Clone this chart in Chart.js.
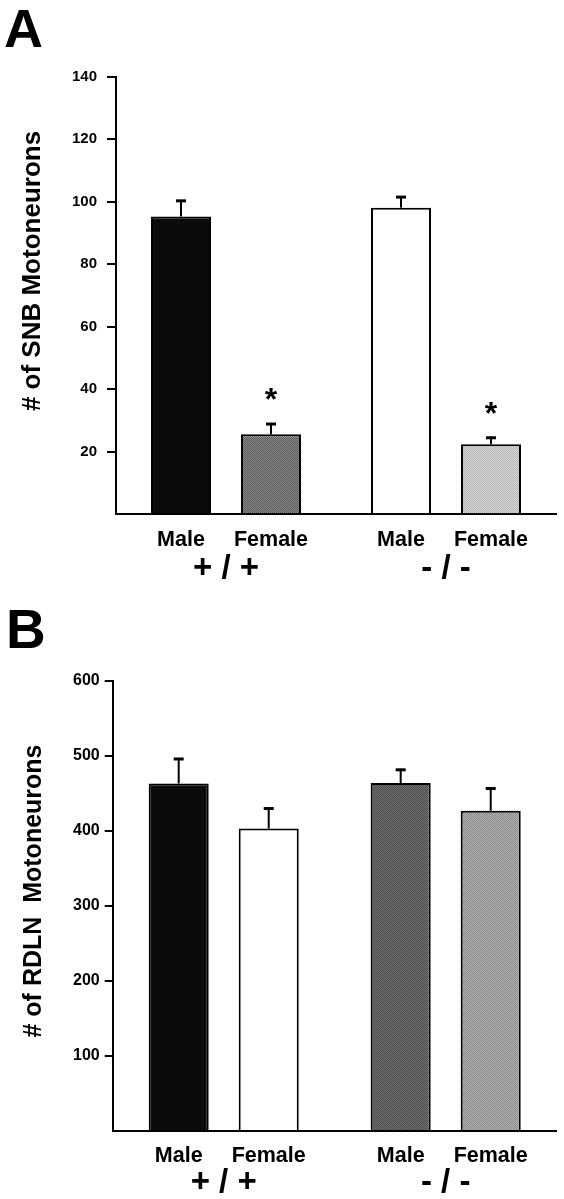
<!DOCTYPE html>
<html><head><meta charset="utf-8">
<script src="https://cdn.jsdelivr.net/npm/chart.js@4.4.1/dist/chart.umd.min.js"></script>
<style>html,body{margin:0;padding:0;background:#fff;} canvas{display:block;}</style>
</head><body>
<canvas id="panelA" width="564" height="600"></canvas>
<canvas id="panelB" width="564" height="599"></canvas>
<script>
// ---- data ----
const genotypes = ['+ / +', '- / -'];
const sexes = ['Male', 'Female'];

// Panel A: # of SNB motoneurons
const snbMale = [95.3, 98.1];
const snbMaleErr = [5.3, 3.7];
const snbFemale = [25.6, 22.4];
const snbFemaleErr = [3.6, 2.4];
const snbFemaleSignificant = [true, true];
const snbTicks = [0, 20, 40, 60, 80, 100, 120, 140];

// Panel B: # of RDLN motoneurons
const rdlnMale = [463, 463.6];
const rdlnMaleErr = [34, 19];
const rdlnFemale = [403, 426.7];
const rdlnFemaleErr = [28, 31];
const rdlnTicks = [0, 100, 200, 300, 400, 500, 600];

// ---- drawing ----
const FONT = '"Liberation Sans", Arial, Helvetica, sans-serif';
Chart.defaults.font.family = FONT;

function stipple(light, dark) {
  const c = document.createElement('canvas');
  c.width = 2; c.height = 2;
  const g = c.getContext('2d');
  g.fillStyle = light; g.fillRect(0, 0, 2, 2);
  g.fillStyle = dark; g.fillRect(0, 0, 1, 1); g.fillRect(1, 1, 1, 1);
  return g.createPattern(c, 'repeat');
}

function makePanel(id, o) {
  const annot = {
    id: 'annot',
    afterDatasetsDraw(chart) {
      const ctx = chart.ctx, ys = chart.scales.y, xs = chart.scales.x;
      const bottom = chart.chartArea.bottom;
      ctx.save();
      ctx.strokeStyle = '#000'; ctx.fillStyle = '#000';
      chart.data.datasets.forEach((ds, di) => {
        const meta = chart.getDatasetMeta(di);
        meta.data.forEach((bar, i) => {
          const top = ys.getPixelForValue(ds.data[i] + ds.err[i]);
          ctx.lineWidth = 2;
          ctx.beginPath(); ctx.moveTo(bar.x, bar.y); ctx.lineTo(bar.x, top); ctx.stroke();
          ctx.lineWidth = 3;
          ctx.beginPath(); ctx.moveTo(bar.x - 5, top + 1); ctx.lineTo(bar.x + 5, top + 1); ctx.stroke();
          if (ds.star && ds.star[i]) {
            ctx.font = 'bold 32px ' + FONT;
            ctx.textAlign = 'center'; ctx.textBaseline = 'alphabetic';
            ctx.fillText('*', bar.x, top - 13);
          }
          ctx.font = 'bold 21.5px ' + FONT;
          ctx.textAlign = 'center'; ctx.textBaseline = 'middle';
          ctx.fillText(ds.label, bar.x, bottom + o.sexDy);
        });
      });
      chart.data.labels.forEach((lab, i) => {
        ctx.font = 'bold 33px ' + FONT;
        ctx.textAlign = 'center'; ctx.textBaseline = 'middle';
        ctx.fillText(lab, xs.getPixelForValue(i), bottom + o.groupDy);
      });
      // y-axis title
      ctx.save();
      ctx.translate(o.titleX, o.titleY);
      ctx.rotate(-Math.PI / 2);
      ctx.font = 'bold ' + o.titleSize + 'px ' + FONT;
      ctx.textAlign = 'center'; ctx.textBaseline = 'middle';
      ctx.fillText(o.title, 0, 0);
      ctx.restore();
      // panel letter
      ctx.font = 'bold ' + o.letterSize + 'px ' + FONT;
      ctx.textAlign = 'left'; ctx.textBaseline = 'alphabetic';
      ctx.fillText(o.letter, o.letterX, o.letterY);
      ctx.restore();
    }
  };

  return new Chart(document.getElementById(id), {
    type: 'bar',
    data: {
      labels: genotypes,
      datasets: [
        { label: sexes[0], data: o.male, err: o.maleErr, backgroundColor: o.maleColors,
          borderColor: '#000', borderWidth: 2,
          barPercentage: o.barPct, categoryPercentage: o.catPct },
        { label: sexes[1], data: o.female, err: o.femaleErr, star: o.femaleStar, backgroundColor: o.femaleColors,
          borderColor: '#000', borderWidth: 2,
          barPercentage: o.barPct, categoryPercentage: o.catPct }
      ]
    },
    options: {
      responsive: false, animation: false, devicePixelRatio: 1,
      layout: { padding: { left: 0, right: o.padRight, top: o.padTop, bottom: o.padBottom } },
      plugins: { legend: { display: false }, tooltip: { enabled: false } },
      scales: {
        x: {
          offset: true,
          grid: { display: false },
          border: { display: true, color: '#000', width: 2 },
          ticks: { display: false },
          afterFit(s) { s.height = 0; }
        },
        y: {
          min: o.ticks[0], max: o.ticks[o.ticks.length - 1],
          afterBuildTicks(s) { s.ticks = o.ticks.map(v => ({ value: v })); },
          ticks: {
            color: '#000', padding: o.tickPad,
            font: { size: o.tickSize, weight: 'bold' },
            callback: v => (v === 0 ? '' : v)
          },
          grid: {
            drawOnChartArea: false, drawTicks: true, tickLength: o.tickLen,
            lineWidth: 2,
            color: c => (c.tick && c.tick.value === 0 ? 'rgba(0,0,0,0)' : '#000')
          },
          border: { display: true, color: '#000', width: 2 },
          afterFit(s) { s.width = o.axisLeft; }
        }
      }
    },
    plugins: [annot]
  });
}

makePanel('panelA', {
  male: snbMale, maleErr: snbMaleErr, female: snbFemale, femaleErr: snbFemaleErr,
  femaleStar: snbFemaleSignificant, ticks: snbTicks,
  maleColors: ['#0b0b0b', '#ffffff'],
  femaleColors: [stipple('#8c8c8c', '#5a5a5a'), stipple('#d8d8d8', '#b4b4b4')],
  barPct: 0.667, catPct: 0.818,
  axisLeft: 116, padRight: 8, padTop: 76.7, padBottom: 85.7,
  tickLen: 9, tickPad: 10, tickSize: 15,
  sexDy: 26, groupDy: 55,
  title: '# of SNB Motoneurons', titleSize: 26, titleX: 33, titleY: 271,
  letter: 'A', letterSize: 54, letterX: 4, letterY: 47
});

makePanel('panelB', {
  male: rdlnMale, maleErr: rdlnMaleErr, female: rdlnFemale, femaleErr: rdlnFemaleErr,
  femaleStar: null, ticks: rdlnTicks,
  maleColors: ['#0b0b0b', stipple('#767676', '#464646')],
  femaleColors: ['#ffffff', stipple('#b4b4b4', '#888888')],
  barPct: 0.667, catPct: 0.811,
  axisLeft: 112.7, padRight: 7.3, padTop: 80.7, padBottom: 68,
  tickLen: 8, tickPad: 5, tickSize: 16,
  sexDy: 25, groupDy: 52,
  title: '# of RDLN  Motoneurons', titleSize: 25, titleX: 34, titleY: 291,
  letter: 'B', letterSize: 55, letterX: 6, letterY: 48
});
</script>
</body></html>
